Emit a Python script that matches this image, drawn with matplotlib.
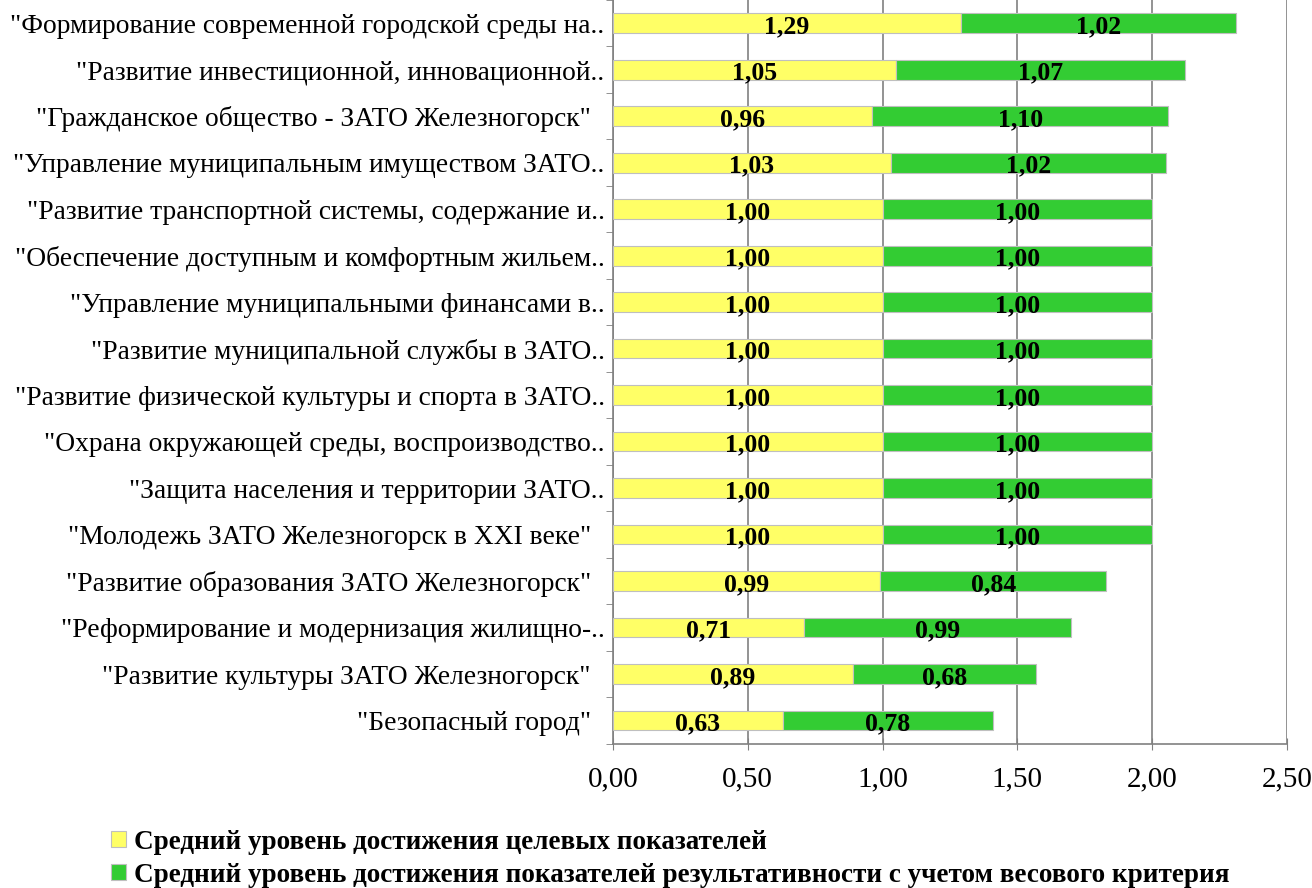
import matplotlib.pyplot as plt
import numpy as np

plt.rcParams['font.family'] = ['Liberation Serif', 'DejaVu Serif']

programs = [
    '"Формирование современной городской среды на..',
    '"Развитие инвестиционной, инновационной..',
    '"Гражданское общество - ЗАТО Железногорск"  ',
    '"Управление муниципальным имуществом ЗАТО..',
    '"Развитие транспортной системы, содержание и..',
    '"Обеспечение доступным и комфортным жильем..',
    '"Управление муниципальными финансами в..',
    '"Развитие муниципальной службы в ЗАТО..',
    '"Развитие физической культуры и спорта в ЗАТО..',
    '"Охрана окружающей среды, воспроизводство..',
    '"Защита населения и территории ЗАТО..',
    '"Молодежь ЗАТО Железногорск в XXI веке"  ',
    '"Развитие образования ЗАТО Железногорск"  ',
    '"Реформирование и модернизация жилищно-..',
    '"Развитие культуры ЗАТО Железногорск"  ',
    '"Безопасный город"  ',
]
target_level = [1.29, 1.05, 0.96, 1.03, 1.00, 1.00, 1.00, 1.00, 1.00, 1.00,
                1.00, 1.00, 0.99, 0.71, 0.89, 0.63]
weighted_level = [1.02, 1.07, 1.10, 1.02, 1.00, 1.00, 1.00, 1.00, 1.00, 1.00,
                  1.00, 1.00, 0.84, 0.99, 0.68, 0.78]
series_names = ['Средний уровень достижения целевых показателей',
                'Средний уровень достижения показателей результативности с учетом весового критерия']
xticks = [0, 0.5, 1.0, 1.5, 2.0, 2.5]

fig = plt.figure(figsize=(13.12, 8.88), dpi=100)
ax = fig.add_axes([0.4672, 0.1622, 0.5138, 0.8378])

y = np.arange(len(programs))[::-1]
h = 0.42
b1 = ax.barh(y, target_level, height=h, color='#FFFF66', edgecolor='#BFBFBF',
             linewidth=0.8, label=series_names[0], zorder=3)
b2 = ax.barh(y, weighted_level, left=target_level, height=h, color='#33CC33',
             edgecolor='#BFBFBF', linewidth=0.8, label=series_names[1], zorder=3)

def fmt(v):
    return ('%.2f' % v).replace('.', ',')

for bars, vals in [(b1, target_level), (b2, weighted_level)]:
    anns = ax.bar_label(bars, labels=[fmt(v) for v in vals], label_type='center',
                        fontsize=18.5, fontweight='bold', zorder=4)
    for a in anns:
        a.xyann = (0, -2.5)

ax.set_xlim(0, 2.5)
ax.set_ylim(-0.5, len(programs) - 0.5)
ax.set_xticks(xticks)
ax.set_xticklabels([fmt(v) for v in xticks], fontsize=21)
ax.set_yticks(y)
ax.set_yticklabels(programs, fontsize=19.8)
ax.tick_params(axis='y', length=0, pad=6)
ax.set_yticks(np.arange(-0.5, len(programs), 1.0), minor=True)
ax.tick_params(axis='y', which='minor', length=5, color='#808080')
ax.tick_params(axis='x', direction='inout', length=8, color='#808080', pad=12)
ax.xaxis.grid(True, color='#808080', linewidth=1.2, zorder=0)

for s in ['top', 'right']:
    ax.spines[s].set_visible(False)
for s in ['left', 'bottom']:
    ax.spines[s].set_color('#808080')
    ax.spines[s].set_linewidth(1.2)

fig.legend(handles=[b1, b2], loc='upper left', bbox_to_anchor=(0.0746, 0.081),
           frameon=False, prop={'size': 19.5, 'weight': 'bold'}, borderpad=0,
           handlelength=0.55, handleheight=0.55, handletextpad=0.3, labelspacing=0.3)

fig.savefig('out.png', dpi=100)
